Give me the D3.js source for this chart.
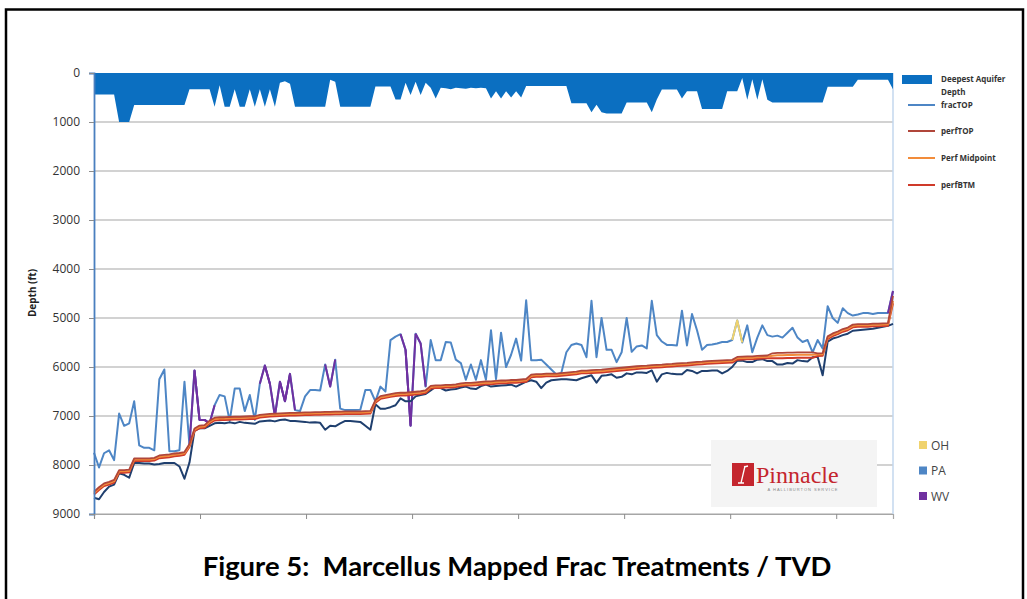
<!DOCTYPE html>
<html>
<head>
<meta charset="utf-8">
<script src="https://cdn.jsdelivr.net/npm/d3@7"></script>
<style>
  body { margin: 0; background: #fff; }
  svg { display: block; }
</style>
</head>
<body>
<div id="chart"></div>
<script>
// depth ticks (ft)
var depthTicks = [0, 1000, 2000, 3000, 4000, 5000, 6000, 7000, 8000, 9000];

// deepest aquifer depth per well (ft)
var aquiferDepth = [
  440,440,440,440,440,1000,1000,1000,655,655,
  655,655,655,655,655,655,655,655,655,330,
  330,330,330,330,690,250,690,690,330,690,
  690,330,690,330,690,330,690,200,170,220,
  690,690,690,690,690,690,690,140,180,690,
  690,690,690,690,690,690,275,275,275,275,
  540,540,200,450,180,450,200,300,520,300,
  310,330,300,310,320,300,310,300,310,520,
  370,520,370,500,370,500,265,265,265,265,
  265,265,265,265,265,615,615,615,615,800,
  650,800,825,825,825,825,600,600,600,600,
  600,800,540,335,335,335,335,520,370,370,
  370,735,735,735,735,735,370,370,370,100,
  545,130,545,130,545,600,600,600,600,600,
  600,600,600,600,600,600,280,280,280,280,
  280,280,140,140,140,140,140,140,140,330
];

var fracTOP = [
  7750,8050,7760,7700,7900,6950,7200,7150,6700,7600,
  7650,7650,7700,6250,6050,7720,7720,7700,6300,7600,
  6070,7080,7080,7150,6780,6570,6600,7100,6440,6440,
  6900,6570,7080,6340,5970,6340,7000,6300,6700,6140,
  6880,6900,6600,6470,6470,6480,5950,6400,5850,6850,
  6880,6880,6880,6870,6470,6470,6700,6400,6500,5450,
  5380,5330,5650,7200,5320,5520,6400,5450,5860,5860,
  5490,5500,5850,5920,6260,5950,6260,5860,6260,5250,
  6250,5300,6000,5750,5420,5870,4640,5860,5860,5850,
  5950,6050,6150,6120,5700,5550,5520,5550,5800,4650,
  5800,5000,5650,5650,5900,5700,5000,5690,5580,5560,
  5620,4650,5350,5480,5550,5550,5560,4850,5560,4920,
  5250,5650,5550,5540,5520,5490,5490,5450,5050,5500,
  5150,5700,5400,5150,5350,5380,5360,5400,5300,5200,
  5400,5490,5450,5700,5450,5620,4760,5000,5100,4800,
  4900,4950,4930,4900,4900,4920,4900,4900,4900,4450
];

// state of each well (default PA)
var wvWells = [20,21,22,23,34,35,37,38,39,47,62,63,65,159];
var ohWells = [128];

var perfTOP = [
  8545,8455,8375,8345,8305,8105,8105,8095,7865,7865,
  7865,7865,7855,7805,7795,7785,7765,7755,7735,7570,
  7255,7195,7185,7095,7035,7025,7025,7020,7015,7015,
  7010,7005,7005,6975,6965,6955,6950,6945,6940,6935,
  6935,6930,6925,6925,6920,6920,6915,6915,6910,6910,
  6905,6905,6905,6905,6900,6895,6675,6595,6575,6555,
  6535,6525,6525,6515,6505,6495,6475,6385,6375,6375,
  6365,6365,6355,6335,6325,6325,6315,6305,6295,6295,
  6285,6275,6275,6265,6265,6255,6245,6155,6145,6145,
  6135,6135,6135,6125,6115,6105,6095,6075,6075,6065,
  6060,6055,6045,6035,6025,6015,6005,5995,5985,5975,
  5970,5960,5955,5950,5940,5935,5925,5920,5915,5905,
  5895,5890,5880,5875,5870,5865,5860,5855,5795,5790,
  5785,5785,5775,5770,5765,5720,5710,5710,5705,5705,
  5700,5700,5700,5700,5720,5715,5375,5315,5275,5225,
  5195,5135,5125,5125,5125,5115,5115,5110,5105,4550
];

var perfMid = [
  8570,8480,8400,8370,8330,8130,8130,8120,7890,7890,
  7890,7890,7880,7830,7820,7810,7790,7780,7760,7600,
  7280,7220,7210,7120,7060,7050,7050,7045,7040,7040,
  7035,7030,7030,7000,6990,6980,6975,6970,6965,6960,
  6960,6955,6950,6950,6945,6945,6940,6940,6935,6935,
  6930,6930,6930,6930,6925,6920,6700,6620,6600,6580,
  6560,6550,6550,6540,6530,6520,6500,6410,6400,6400,
  6390,6390,6380,6360,6350,6350,6340,6330,6320,6320,
  6310,6300,6300,6290,6290,6280,6270,6180,6170,6170,
  6160,6160,6160,6150,6140,6130,6120,6100,6100,6090,
  6085,6080,6070,6060,6050,6040,6030,6020,6010,6000,
  5995,5985,5980,5975,5965,5960,5950,5945,5940,5930,
  5920,5915,5905,5900,5895,5890,5885,5880,5820,5815,
  5810,5810,5800,5795,5790,5770,5760,5760,5755,5755,
  5750,5750,5750,5750,5745,5740,5400,5340,5300,5250,
  5220,5160,5150,5150,5150,5140,5140,5135,5130,4650
];

var perfBTM = [
  8600,8510,8430,8400,8360,8160,8160,8150,7920,7920,
  7920,7920,7910,7860,7850,7840,7820,7810,7790,7630,
  7310,7250,7240,7150,7090,7080,7080,7075,7070,7070,
  7065,7060,7060,7030,7020,7010,7005,7000,6995,6990,
  6990,6985,6980,6980,6975,6975,6970,6970,6965,6965,
  6960,6960,6960,6960,6955,6950,6730,6650,6630,6610,
  6590,6580,6580,6570,6560,6550,6530,6440,6430,6430,
  6420,6420,6410,6390,6380,6380,6370,6360,6350,6350,
  6340,6330,6330,6320,6320,6310,6300,6210,6200,6200,
  6190,6190,6190,6180,6170,6160,6150,6130,6130,6120,
  6115,6110,6100,6090,6080,6070,6060,6050,6040,6030,
  6025,6015,6010,6005,5995,5990,5980,5975,5970,5960,
  5950,5945,5935,5930,5925,5920,5915,5910,5850,5845,
  5840,5840,5830,5825,5820,5820,5820,5820,5815,5815,
  5810,5810,5810,5810,5775,5770,5430,5370,5330,5280,
  5250,5190,5180,5180,5180,5170,5170,5165,5160,4700
];

var fracBTM = [
  8670,8700,8550,8440,8400,8170,8200,8260,7960,7960,
  7970,7970,7990,7980,7960,7960,7960,8030,8280,7950,
  7300,7250,7250,7200,7150,7140,7150,7130,7150,7120,
  7140,7150,7160,7110,7100,7090,7110,7080,7070,7100,
  7100,7110,7120,7135,7130,7140,7280,7200,7210,7150,
  7100,7100,7110,7120,7200,7280,6760,6850,6850,6820,
  6780,6640,6700,6700,6600,6570,6550,6480,6400,6430,
  6480,6460,6450,6420,6400,6440,6450,6390,6360,6400,
  6390,6380,6370,6360,6400,6350,6300,6270,6300,6430,
  6320,6270,6260,6250,6250,6260,6270,6230,6200,6170,
  6320,6180,6170,6150,6220,6200,6130,6150,6110,6110,
  6120,6070,6300,6150,6120,6140,6150,6150,6060,6080,
  6130,6080,6080,6070,6070,6130,6080,6000,5870,5870,
  5900,5900,5850,5840,5880,5880,5950,5950,5920,5930,
  5860,5880,5890,5800,5790,6170,5480,5420,5390,5350,
  5320,5260,5250,5240,5230,5220,5200,5180,5160,5120
];

var legendSeries = ["Deepest Aquifer Depth", "fracTOP", "perfTOP", "Perf Midpoint", "perfBTM"];
var stateNames = ["OH", "PA", "WV"];

var colors = {
  aquifer: "#0B6FC1",
  fracTOP: "#4E86C5",
  fracBTM: "#1F3F6E",
  perfTOP: "#B0463A",
  perfMid: "#F28C3A",
  perfBTM: "#CF3A2A",
  OH: "#F0D36E",
  PA: "#4E86C5",
  WV: "#7030A0"
};

var W = 1027, H = 599;
var N = fracTOP.length;

var svg = d3.select("#chart").append("svg")
    .attr("width", W)
    .attr("height", H);

// outer frame
svg.append("rect")
    .attr("x", 6).attr("y", 9.5)
    .attr("width", 1017).attr("height", 620)
    .attr("fill", "none")
    .attr("stroke", "#000")
    .attr("stroke-width", 2.5);

var x = d3.scaleLinear().domain([0, N - 1]).range([94, 893]);
var y = d3.scaleLinear().domain([0, 9000]).range([73, 514]);

// grid
svg.append("g").selectAll("line").data(depthTicks.slice(1))
    .enter().append("line")
    .attr("x1", 94).attr("x2", 893)
    .attr("y1", function (d) { return y(d); })
    .attr("y2", function (d) { return y(d); })
    .attr("stroke", "#a6a6a6")
    .attr("stroke-width", 1.2);

// right plot edge
svg.append("line")
    .attr("x1", 893).attr("x2", 893).attr("y1", 73).attr("y2", 514)
    .attr("stroke", "#c3d7ee").attr("stroke-width", 1.5);

// aquifer area
var area = d3.area()
    .x(function (d, i) { return x(i); })
    .y0(y(0))
    .y1(function (d) { return y(d); });

svg.append("path")
    .datum(aquiferDepth)
    .attr("d", area)
    .attr("fill", colors.aquifer);

var line = d3.line()
    .x(function (d, i) { return x(i); })
    .y(function (d) { return y(d); });

function drawLine(data, color, w) {
    svg.append("path")
        .datum(data)
        .attr("d", line)
        .attr("fill", "none")
        .attr("stroke", color)
        .attr("stroke-width", w)
        .attr("stroke-linejoin", "round");
}

drawLine(fracTOP, colors.fracTOP, 2);

// WV / OH pieces of fracTOP
function stateSegments(idx, color) {
    idx.forEach(function (i) {
        var pts = [];
        for (var k = Math.max(0, i - 1); k <= Math.min(N - 1, i + 1); k++) {
            pts.push([x(k), y(fracTOP[k])]);
        }
        svg.append("path")
            .attr("d", d3.line()(pts))
            .attr("fill", "none")
            .attr("stroke", color)
            .attr("stroke-width", 2)
            .attr("stroke-linejoin", "round");
    });
}
stateSegments(wvWells, colors.WV);
stateSegments(ohWells, colors.OH);

drawLine(fracBTM, colors.fracBTM, 2);
drawLine(perfBTM, colors.perfBTM, 2);
drawLine(perfMid, colors.perfMid, 2);
drawLine(perfTOP, colors.perfTOP, 1.8);

// axes
var yAxis = svg.append("g")
    .attr("transform", "translate(94,0)")
    .call(d3.axisLeft(y).tickValues(depthTicks).tickSize(5).tickPadding(9).tickFormat(d3.format("d")));
yAxis.select(".domain").attr("stroke", "#4a7fbf").attr("stroke-width", 1.8);
yAxis.selectAll(".tick line").attr("stroke", "#8c8c8c");
yAxis.selectAll(".tick text")
    .attr("font-family", "'Open Sans', sans-serif")
    .attr("font-size", 12)
    .attr("fill", "#333");

var xAxis = svg.append("g")
    .attr("transform", "translate(0,514)")
    .call(d3.axisBottom(x).tickValues(d3.range(0, N, 21.1)).tickSize(5).tickFormat(""));
xAxis.select(".domain").attr("stroke", "#a6a6a6").attr("stroke-width", 1.2);
xAxis.selectAll(".tick line").attr("stroke", "#8c8c8c");

svg.append("text")
    .attr("transform", "translate(36,293) rotate(-90)")
    .attr("text-anchor", "middle")
    .attr("font-family", "'Open Sans', sans-serif")
    .attr("font-weight", "bold")
    .attr("font-size", 10)
    .attr("fill", "#222")
    .text("Depth (ft)");

// series legend
var lg = svg.append("g")
    .attr("font-family", "'Open Sans', sans-serif")
    .attr("font-size", 8)
    .attr("font-weight", "bold")
    .attr("fill", "#333");

lg.append("rect")
    .attr("x", 902).attr("y", 75).attr("width", 30).attr("height", 9)
    .attr("fill", colors.aquifer);
lg.append("text").attr("x", 941).attr("y", 82).text("Deepest Aquifer");
lg.append("text").attr("x", 941).attr("y", 95).text("Depth");

var lineKeys = [
    { name: legendSeries[1], color: colors.fracTOP, y: 105 },
    { name: legendSeries[2], color: colors.perfTOP, y: 131 },
    { name: legendSeries[3], color: colors.perfMid, y: 158 },
    { name: legendSeries[4], color: colors.perfBTM, y: 185 }
];
lineKeys.forEach(function (k) {
    lg.append("line")
        .attr("x1", 908).attr("x2", 935)
        .attr("y1", k.y).attr("y2", k.y)
        .attr("stroke", k.color).attr("stroke-width", 2);
    lg.append("text").attr("x", 941).attr("y", k.y + 3).text(k.name);
});

// Pinnacle logo box
var logo = svg.append("g");
logo.append("rect")
    .attr("x", 711).attr("y", 440).attr("width", 166).attr("height", 67)
    .attr("fill", "#f4f4f4");
logo.append("rect")
    .attr("x", 732).attr("y", 463).attr("width", 22).attr("height", 23)
    .attr("fill", "#c4262e");
logo.append("path")
    .attr("d", "M745,466 L741,483 M738,483 L744,483 M744,467 L748,466")
    .attr("stroke", "#fff").attr("stroke-width", 1.3).attr("fill", "none");
logo.append("text")
    .attr("x", 756).attr("y", 483)
    .attr("font-family", "'Liberation Serif', 'DejaVu Serif', serif")
    .attr("font-size", 24)
    .attr("fill", "#c4262e")
    .text("Pinnacle");
logo.append("text")
    .attr("x", 803).attr("y", 491)
    .attr("text-anchor", "middle")
    .attr("font-family", "'Liberation Sans', sans-serif")
    .attr("font-size", 4)
    .attr("letter-spacing", 1)
    .attr("fill", "#888")
    .text("A HALLIBURTON SERVICE");

// state legend
var sl = svg.append("g")
    .attr("font-family", "'Open Sans', sans-serif")
    .attr("font-size", 12)
    .attr("fill", "#444");
stateNames.forEach(function (s, i) {
    var cy = 445 + i * 25.5;
    sl.append("rect")
        .attr("x", 919).attr("y", cy - 4).attr("width", 8).attr("height", 8)
        .attr("fill", colors[s]);
    sl.append("text").attr("x", 931).attr("y", cy + 4.5).text(s);
});

// caption
var cap = svg.append("text")
    .attr("x", 517).attr("y", 576)
    .attr("text-anchor", "middle")
    .attr("font-family", "Lato, 'Open Sans', sans-serif")
    .attr("font-weight", "bold")
    .attr("font-size", 23)
    .attr("fill", "#000")
    .attr("xml:space", "preserve")
    .style("white-space", "pre")
    .text("Figure 5:  Marcellus Mapped Frac Treatments / TVD");
var cw = cap.node().getComputedTextLength();
if (cw > 0) cap.attr("font-size", 23 * 629 / cw);
</script>
</body>
</html>
